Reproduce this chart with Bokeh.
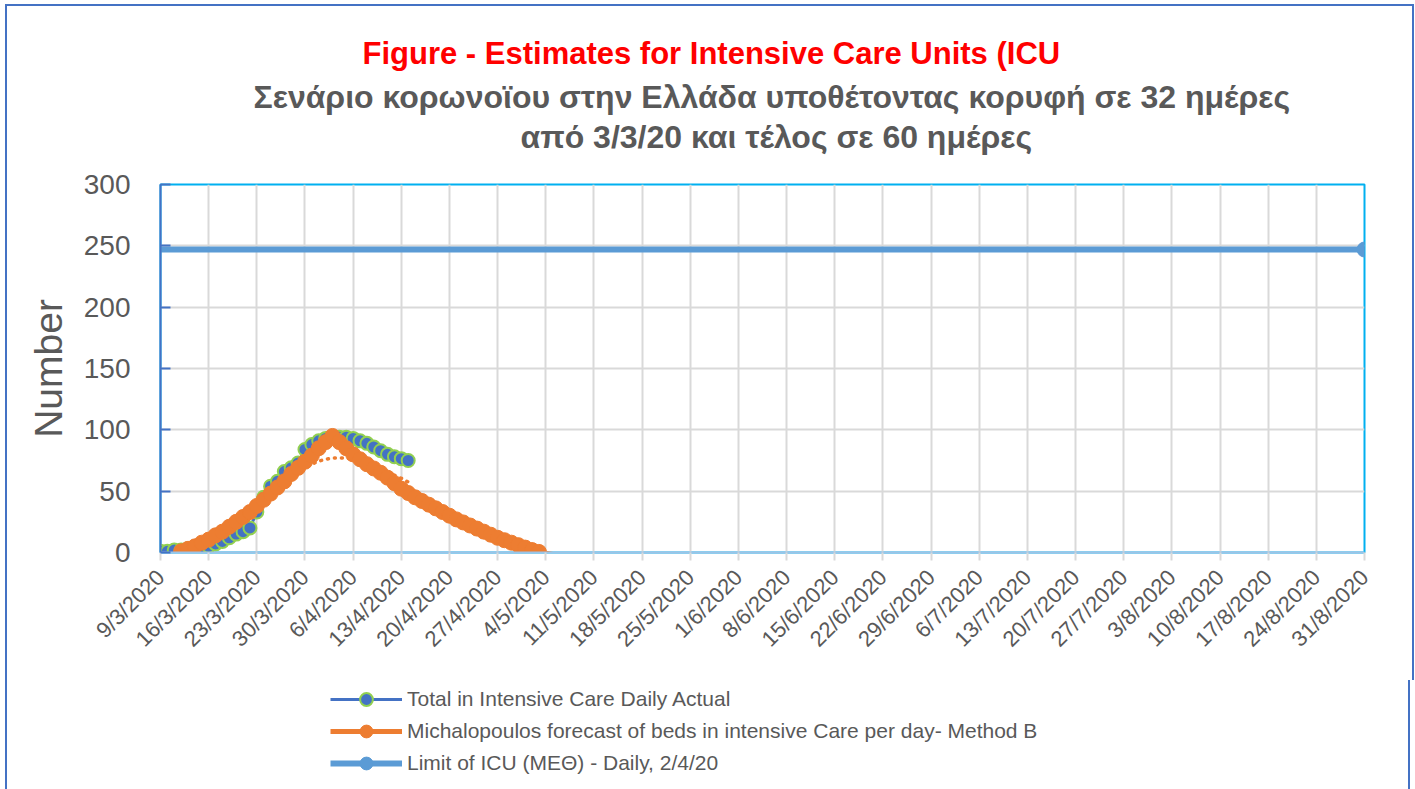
import math
import datetime as dt
from bokeh.plotting import figure
from bokeh.models import FixedTicker, Legend, LegendItem, Title, Column
from bokeh.embed import file_html
from bokeh.resources import INLINE

# ---------------- data ----------------
axis_start = "9/3/2020"
tick_labels = ["9/3/2020", "16/3/2020", "23/3/2020", "30/3/2020", "6/4/2020", "13/4/2020",
               "20/4/2020", "27/4/2020", "4/5/2020", "11/5/2020", "18/5/2020", "25/5/2020",
               "1/6/2020", "8/6/2020", "15/6/2020", "22/6/2020", "29/6/2020", "6/7/2020",
               "13/7/2020", "20/7/2020", "27/7/2020", "3/8/2020", "10/8/2020", "17/8/2020",
               "24/8/2020", "31/8/2020"]
y_ticks = [0, 50, 100, 150, 200, 250, 300]

# Total in Intensive Care Daily Actual (daily from 9/3/2020)
actual_start = "9/3/2020"
actual_icu = [1, 1, 2, 2, 3, 3, 4, 5, 7, 9, 12, 15, 17, 20, 33, 45, 54, 58, 66, 69,
              73, 84, 88, 91, 93, 94, 94, 94, 93, 91, 89, 86, 83, 80, 78, 76.5, 75]

# Michalopoulos forecast - Method B (daily from 12/3/2020)
forecast_start = "12/3/2020"
forecast_icu = [1, 3, 5, 8, 10.5, 14, 17, 21, 25, 29, 33, 38, 43, 48, 53, 58, 64, 69, 74,
                79, 85, 90, 95, 90, 85, 80, 76, 72, 68.5, 65, 61, 56.5, 52, 48.5, 45, 42,
                39, 36, 33, 30, 27, 24.5, 22, 19.5, 17, 14.5, 12, 10, 8, 6, 4, 2, 0.5,
                -0.5, -1.5]

# dotted trend line (daily from 14/3/2020)
trend_start = "14/3/2020"
trend_icu = [4, 6, 8.5, 12, 15, 18.5, 22.5, 26.5, 31, 35.5, 40, 45, 50, 55, 60, 64.5,
             68.5, 72, 74.5, 76, 77, 77, 77, 76, 74.5, 72, 70.5, 68, 65.5, 63, 60.5, 57.5]

# Limit of ICU (ΜΕΘ)
limit_dates = ["9/3/2020", "31/8/2020"]
limit_icu = [247, 247]

title_1 = "Figure  - Estimates for Intensive Care Units (ICU"
title_2 = "Σενάριο κορωνοϊου στην Ελλάδα υποθέτοντας κορυφή σε  32 ημέρες"
title_3 = "από 3/3/20  και τέλος σε  60 ημέρες"
legend_labels = ["Total in Intensive Care Daily Actual",
                 "Michalopoulos forecast of beds in intensive Care per day- Method B",
                 "Limit of ICU (ΜΕΘ) - Daily, 2/4/20"]


def parse(s):
    d, m, y = (int(v) for v in s.split("/"))
    return dt.date(y, m, d)


ORIGIN = parse(axis_start)


def day(s):
    return (parse(s) - ORIGIN).days


def series_x(start, n):
    s = day(start)
    return [s + i for i in range(n)]


tick_x = [day(t) for t in tick_labels]
ax_x = series_x(actual_start, len(actual_icu))
fc_x = series_x(forecast_start, len(forecast_icu))
tr_x = series_x(trend_start, len(trend_icu))
lim_x = [day(d) for d in limit_dates]
fc_mx = [x for x, v in zip(fc_x, forecast_icu) if v >= 0]
fc_mv = [v for v in forecast_icu if v >= 0]

FONT = "Liberation Sans"
GREY = "#595959"
BORDER = "2px solid #4472C4"

# styles of the series
ACT = dict(line_color="#4472C4", line_width=3)
ACT_M = dict(size=13, fill_color="#4472C4", line_color="#92D050", line_width=2)
FC = dict(line_color="#ED7D31", line_width=5)
FC_M = dict(size=15, fill_color="#ED7D31", line_color="#ED7D31")
LIM = dict(line_color="#5B9BD5", line_width=6)
LIM_M = dict(size=15, fill_color="#5B9BD5", line_color="#5B9BD5")


def add_series(fig):
    """Draw the three series on a figure; return the renderers per legend entry."""
    l3 = fig.line(lim_x, limit_icu, **LIM)
    m3 = fig.scatter(lim_x[-1:], limit_icu[-1:], **LIM_M)
    l1 = fig.line(ax_x, actual_icu, **ACT)
    m1 = fig.scatter(ax_x, actual_icu, **ACT_M)
    fig.line(tr_x, trend_icu, line_color="#ED7D31", line_width=3.5, line_dash="1 6",
             line_cap="round")
    l2 = fig.line(fc_x, forecast_icu, **FC)
    m2 = fig.scatter(fc_mx, fc_mv, **FC_M)
    return [l1, m1], [l2, m2], [l3, m3]


# ---------------- main chart ----------------
p = figure(frame_width=1200, frame_height=366, x_range=(tick_x[0], tick_x[-1]), y_range=(0, 300),
           output_backend="svg", toolbar_location=None,
           min_border_left=153, min_border_right=52, min_border_top=178, min_border_bottom=130)
p.styles = {"border-top": BORDER, "border-left": BORDER, "border-right": BORDER}
p.background_fill_color = "white"
p.border_fill_color = "white"
p.outline_line_color = "#00B0F0"
p.outline_line_width = 2

# grids
p.xgrid.ticker = FixedTicker(ticks=tick_x)
p.ygrid.ticker = FixedTicker(ticks=y_ticks)
p.xgrid.grid_line_color = "#D9D9D9"
p.ygrid.grid_line_color = "#D9D9D9"
p.xgrid.grid_line_width = 2
p.ygrid.grid_line_width = 2

# x axis
p.xaxis.ticker = FixedTicker(ticks=tick_x)
p.xaxis.major_label_overrides = {x: lab for x, lab in zip(tick_x, tick_labels)}
p.xaxis.major_label_orientation = math.pi / 4
p.xaxis.axis_line_color = "#9DC3E6"
p.xaxis.axis_line_width = 2
p.xaxis.major_tick_line_color = "#D9D9D9"
p.xaxis.major_tick_line_width = 2
p.xaxis.major_tick_in = 0
p.xaxis.major_tick_out = 8
p.xaxis.minor_tick_line_color = None
p.xaxis.major_label_text_font = FONT
p.xaxis.major_label_text_font_size = "22px"
p.xaxis.major_label_text_color = GREY
p.xaxis.major_label_standoff = 13

# y axis
p.yaxis.ticker = FixedTicker(ticks=y_ticks)
p.yaxis.axis_line_color = "#4472C4"
p.yaxis.axis_line_width = 2
p.yaxis.major_tick_line_color = "#4472C4"
p.yaxis.major_tick_line_width = 2
p.yaxis.major_tick_in = 10
p.yaxis.major_tick_out = 0
p.yaxis.minor_tick_line_color = None
p.yaxis.major_label_text_font = FONT
p.yaxis.major_label_text_font_size = "28px"
p.yaxis.major_label_text_color = GREY
p.yaxis.major_label_standoff = 30
p.yaxis.axis_label = "Number"
p.yaxis.axis_label_text_font = FONT
p.yaxis.axis_label_text_font_size = "39px"
p.yaxis.axis_label_text_font_style = "normal"
p.yaxis.axis_label_text_color = GREY
p.yaxis.axis_label_standoff = 11

add_series(p)

# titles (above panel: first added is nearest to the frame)
p.title = None
p.add_layout(Title(text=" ", text_font_size="10px", standoff=16), "above")
p.add_layout(Title(text=title_3, align="left", offset=360, text_font=FONT,
                   text_font_size="32px", text_font_style="bold", text_color=GREY,
                   vertical_align="middle", standoff=0), "above")
p.add_layout(Title(text=title_2, align="left", offset=93, text_font=FONT,
                   text_font_size="32px", text_font_style="bold", text_color=GREY,
                   vertical_align="middle", standoff=4), "above")
p.add_layout(Title(text=title_1, align="left", offset=202, text_font=FONT,
                   text_font_size="31px", text_font_style="bold", text_color="#FF0000",
                   vertical_align="middle", standoff=7), "above")
p.add_layout(Title(text=" ", text_font_size="10px", standoff=10), "above")

# ---------------- legend strip below the chart ----------------
# same series drawn again on a strip whose range shows none of them; only the legend is visible
lg = figure(width=1405, height=110, x_range=(-100, -99), y_range=(0, 1), x_axis_type=None,
            y_axis_type=None, output_backend="svg", toolbar_location=None, min_border=0)
lg.title = None
lg.styles = {"border-left": BORDER, "border-right": BORDER}
lg.outline_line_color = None
lg.background_fill_color = "white"
lg.border_fill_color = "white"
r1, r2, r3 = add_series(lg)
legend = Legend(items=[LegendItem(label=legend_labels[0], renderers=r1),
                       LegendItem(label=legend_labels[1], renderers=r2),
                       LegendItem(label=legend_labels[2], renderers=r3)],
                location=(170, 11), orientation="vertical",
                glyph_width=72, glyph_height=32, label_height=22, spacing=0,
                label_standoff=5, padding=0, margin=0,
                label_text_font=FONT, label_text_font_size="21px", label_text_color=GREY,
                border_line_color=None, background_fill_alpha=0)
lg.add_layout(legend, "center")

root = Column(children=[p, lg], spacing=0, styles={"margin": "4px 0px 0px 5px"})

open("out.html", "w").write(file_html(root, INLINE))
